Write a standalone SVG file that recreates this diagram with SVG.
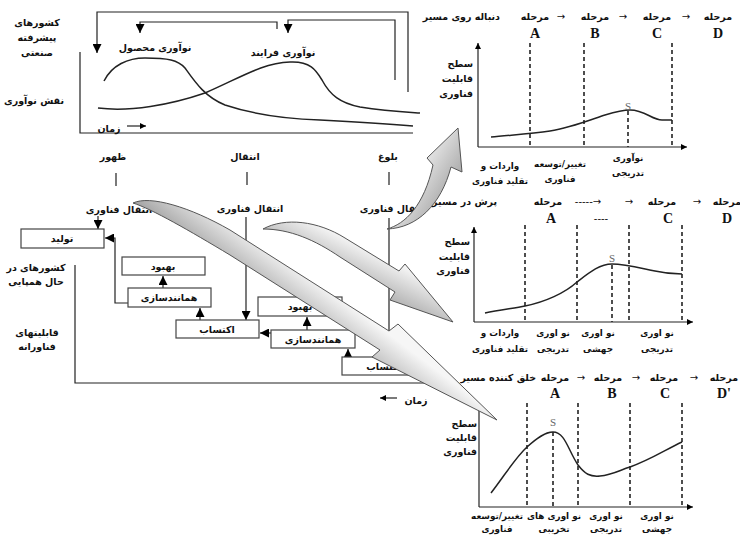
<svg xmlns="http://www.w3.org/2000/svg" width="740" height="537" viewBox="0 0 740 537">
<defs>
<marker id="ah" viewBox="0 0 10 10" refX="10" refY="5" markerWidth="9" markerHeight="9" orient="auto" markerUnits="userSpaceOnUse"><path d="M0,0 L10,5 L0,10 Z" fill="#000"/></marker>
<marker id="as" viewBox="0 0 10 10" refX="10" refY="5" markerWidth="7" markerHeight="6" orient="auto" markerUnits="userSpaceOnUse"><path d="M0,0 L10,5 L0,10 Z" fill="#000"/></marker>
<linearGradient id="g1" gradientUnits="userSpaceOnUse" x1="400" y1="180" x2="450" y2="210"><stop offset="0" stop-color="#f4f4f4"/><stop offset="1" stop-color="#9e9e9e"/></linearGradient>
<linearGradient id="g2" gradientUnits="userSpaceOnUse" x1="350" y1="240" x2="330" y2="280"><stop offset="0" stop-color="#f4f4f4"/><stop offset="1" stop-color="#a4a4a4"/></linearGradient>
<linearGradient id="g3" gradientUnits="userSpaceOnUse" x1="330" y1="290" x2="300" y2="330"><stop offset="0" stop-color="#f6f6f6"/><stop offset="1" stop-color="#a0a0a0"/></linearGradient>
</defs>
<style>
.fa{font-family:"DejaVu Sans",sans-serif;font-weight:bold;font-size:9.5px;fill:#111}
.sm{font-size:8.8px}
.m{text-anchor:middle}
.e{text-anchor:end}
.lat{font-family:"Liberation Serif",serif;font-weight:bold;font-size:14px;fill:#111;text-anchor:middle}
.s{font-family:"Liberation Serif",serif;font-size:11px;fill:#666;text-anchor:middle}
.ar{font-family:"DejaVu Sans",sans-serif;font-size:10px;fill:#111;text-anchor:middle}
.ln{fill:none;stroke:#222;stroke-width:1.2}
.cv{fill:none;stroke:#222;stroke-width:1.5}
.box{fill:#fff;stroke:#444;stroke-width:1.2}
.dash{stroke:#222;stroke-width:1.6;stroke-dasharray:4,3;fill:none}
.big{stroke:#555;stroke-width:1}
</style>

<!-- Top-left: innovation role chart -->
<g id="top-chart">
<text class="fa m" x="37" y="26">کشورهای</text>
<text class="fa m" x="37" y="41">پیشرفته</text>
<text class="fa m" x="37" y="56">صنعتی</text>
<text class="fa m" x="34" y="104">نقش نوآوری</text>
<path class="ln" d="M80,52 L80,133 L413,133"/>
<path class="cv" d="M104,81 C112,65 128,58 145,58 C168,58 178,60 185,68 C195,82 205,97 225,105 C258,116 290,119 320,120 C360,122 390,124 413,126"/>
<path class="cv" d="M98,108 C130,112 170,105 205,93 C240,78 262,63 290,62 C310,61 316,70 322,80 C330,95 340,103 360,107 C385,111 405,112 420,113"/>
<text class="fa m" x="155" y="51">نوآوری محصول</text>
<text class="fa m" x="283" y="56">نوآوری فرایند</text>
<text class="fa m" x="109" y="132">زمان</text>
</g>

<!-- Connectors -->
<g id="connectors">
<path class="ln" d="M408,92 L408,12 L97,12 L97,53" marker-end="url(#ah)"/>
<path class="ln" d="M277,29 L277,22 L140,22 L140,33" marker-end="url(#ah)"/>
<path class="ln" d="M395,80 L395,20 L288,20 L288,33" marker-end="url(#ah)"/>
<path class="ln" d="M127,126 L146,126" marker-end="url(#as)"/>
<path class="ln" d="M116,173 L116,186 M247,172 L247,185 M389,172 L389,185"/>
<path class="ln" d="M98,216 L98,229" marker-end="url(#ah)"/>
<path class="ln" d="M246,217 L246,320" marker-end="url(#ah)"/>
<path class="ln" d="M389,218 L389,357" marker-end="url(#ah)"/>
<path class="ln" d="M128,303 L115,303 L115,238 L105,238" marker-end="url(#ah)"/>
<path class="ln" d="M163,288 L163,276" marker-end="url(#ah)"/>
<path class="ln" d="M200,320 L200,308" marker-end="url(#ah)"/>
<path class="ln" d="M307,330 L307,317" marker-end="url(#ah)"/>
<path class="ln" d="M271,333 L260,333" marker-end="url(#ah)"/>
<path class="ln" d="M348,357 L348,349" marker-end="url(#ah)"/>
<path class="ln" d="M75,265 L75,383 L455,383"/>
<path class="ln" d="M397,398 L380,398" marker-end="url(#as)"/>
</g>

<g id="labels-lower">
<text class="fa m" x="113" y="160">ظهور</text>
<text class="fa m" x="245" y="160">انتقال</text>
<text class="fa m" x="388" y="160">بلوغ</text>
<text class="fa m" x="119" y="213">انتقال فناوری</text>
<text class="fa m" x="250" y="212">انتقال فناوری</text>
<text class="fa m" x="393" y="212">انتقال فناوری</text>
<text class="fa m" x="36" y="271">کشورهای در</text>
<text class="fa m" x="36" y="285">حال همپایی</text>
<text class="fa m" x="37" y="336">قابلیتهای</text>
<text class="fa m" x="37" y="350">فناورانه</text>
<text class="fa m" x="416" y="404">زمان</text>
</g>

<g id="n-tolid"><rect class="box" x="21" y="229" width="83" height="19"/><text class="fa m" x="62" y="242">تولید</text></g>
<g id="n-behbood1"><rect class="box" x="122" y="257" width="83" height="18"/><text class="fa m" x="163" y="270">بهبود</text></g>
<g id="n-hamanand1"><rect class="box" x="128" y="288" width="83" height="19"/><text class="fa m" x="169" y="301">همانندسازی</text></g>
<g id="n-ektesab2"><rect class="box" x="176" y="320" width="83" height="18"/><text class="fa m" x="217" y="333">اکتساب</text></g>
<g id="n-behbood2"><rect class="box" x="258" y="297" width="84" height="19"/><text class="fa m" x="300" y="310">بهبود</text></g>
<g id="n-hamanand2"><rect class="box" x="271" y="330" width="84" height="18"/><text class="fa m" x="313" y="343">همانندسازی</text></g>
<g id="n-ektesab3"><rect class="box" x="342" y="357" width="84" height="18"/><text class="fa m" x="384" y="370">اکتساب</text></g>

<!-- Graph 1 -->
<g id="graph1">
<text class="fa e" x="500" y="20">دنباله روی مسیر</text>
<text class="fa m" x="535" y="20">مرحله</text><text class="ar" x="561" y="20">→</text>
<text class="fa m" x="595" y="20">مرحله</text><text class="ar" x="623" y="20">→</text>
<text class="fa m" x="657" y="20">مرحله</text><text class="ar" x="686" y="20">→</text>
<text class="fa m" x="718" y="20">مرحله</text>
<text class="lat" x="535" y="38">A</text><text class="lat" x="595" y="38">B</text><text class="lat" x="657" y="38">C</text><text class="lat" x="718" y="38">D</text>
<path class="ln" d="M478,147 L478,43" marker-end="url(#as)"/>
<path class="ln" d="M478,147 L687,147" marker-end="url(#as)"/>
<path class="dash" d="M530,43 L530,147 M584,43 L584,147 M628,111 L628,147 M672,43 L672,147"/>
<path class="cv" d="M491,137 C510,135 530,134 550,131 C570,128 590,120 605,115 C615,112 622,110 630,110 C645,110 652,120 662,120 L672,120"/>
<text class="s" x="628" y="110">S</text>
<text class="fa e" x="473" y="67">سطح</text>
<text class="fa e" x="473" y="82">قابلیت</text>
<text class="fa e" x="473" y="97">فناوری</text>
<text class="fa sm m" x="500" y="169">واردات و</text>
<text class="fa sm m" x="500" y="184">تقلید فناوری</text>
<text class="fa sm m" x="560" y="167">تغییر/توسعه</text>
<text class="fa sm m" x="560" y="182">فناوری</text>
<text class="fa sm m" x="628" y="161">نوآوری</text>
<text class="fa sm m" x="628" y="176">تدریجی</text>
</g>

<!-- Graph 2 -->
<g id="graph2">
<text class="fa e" x="497" y="205">پرش در مسیر</text>
<text class="fa m" x="548" y="205">مرحله</text>
<text class="ar" x="588" y="205">-----→</text>
<text class="ar" x="629" y="205">→</text>
<text class="fa m" x="662" y="205">مرحله</text><text class="ar" x="697" y="205">→</text>
<text class="fa m" x="727" y="205">مرحله</text>
<text class="lat" x="551" y="223">A</text><text class="ar" x="601" y="222">----</text><text class="lat" x="668" y="223">C</text><text class="lat" x="727" y="223">D</text>
<path class="ln" d="M474,322 L474,227" marker-end="url(#as)"/>
<path class="ln" d="M474,322 L693,322" marker-end="url(#as)"/>
<path class="dash" d="M525,225 L525,322 M577,225 L577,322 M612,265 L612,322 M629,225 L629,322 M682,225 L682,322"/>
<path class="cv" d="M485,313 C500,310 515,308 525,306 C545,302 565,293 577,282 C590,272 600,264 612,264 C625,264 640,268 655,271 C668,274 675,274 682,274"/>
<text class="s" x="612" y="262">S</text>
<text class="fa e" x="470" y="245">سطح</text>
<text class="fa e" x="470" y="260">قابلیت</text>
<text class="fa e" x="470" y="274">فناوری</text>
<text class="fa sm m" x="500" y="336">واردات و</text>
<text class="fa sm m" x="500" y="352">تقلید فناوری</text>
<text class="fa sm m" x="553" y="336">نو اوری</text>
<text class="fa sm m" x="553" y="352">تدریجی</text>
<text class="fa sm m" x="598" y="336">نو اوری</text>
<text class="fa sm m" x="598" y="352">جهشی</text>
<text class="fa sm m" x="657" y="336">نو اوری</text>
<text class="fa sm m" x="657" y="352">تدریجی</text>
</g>

<!-- Graph 3 -->
<g id="graph3">
<text class="fa e" x="536" y="381">خلق کننده مسیر</text>
<text class="fa m" x="555" y="381">مرحله</text><text class="ar" x="581" y="381">→</text>
<text class="fa m" x="608" y="381">مرحله</text><text class="ar" x="636" y="381">→</text>
<text class="fa m" x="664" y="381">مرحله</text><text class="ar" x="694" y="381">→</text>
<text class="fa m" x="724" y="381">مرحله</text>
<text class="lat" x="555" y="398">A</text><text class="lat" x="612" y="398">B</text><text class="lat" x="665" y="398">C</text><text class="lat" x="724" y="398">D'</text>
<path class="ln" d="M479,507 L479,407"/>
<path class="ln" d="M479,507 L693,507" marker-end="url(#as)"/>
<path class="dash" d="M527,403 L527,507 M553,432 L553,507 M578,403 L578,507 M630,403 L630,507 M682,403 L682,507"/>
<path class="cv" d="M491,493 C505,475 515,458 527,447 C537,438 545,432 553,432 C565,432 568,450 578,465 C585,474 590,477 600,476 C612,475 620,470 630,467 C650,460 665,450 682,442"/>
<text class="s" x="553" y="426">S</text>
<text class="fa e" x="477" y="427">سطح</text>
<text class="fa e" x="477" y="441">قابلیت</text>
<text class="fa e" x="477" y="455">فناوری</text>
<text class="fa sm m" x="497" y="519">تغییر/توسعه</text>
<text class="fa sm m" x="497" y="532">فناوری</text>
<text class="fa sm m" x="554" y="519">نو اوری های</text>
<text class="fa sm m" x="554" y="532">تخریبی</text>
<text class="fa sm m" x="606" y="519">نو اوری</text>
<text class="fa sm m" x="606" y="532">تدریجی</text>
<text class="fa sm m" x="657" y="519">نو اوری</text>
<text class="fa sm m" x="657" y="532">جهشی</text>
</g>

<!-- Big curved arrows -->
<g id="big-arrows">
<path class="big" fill="url(#g1)" d="M387,229 C405,224 424,206 433,165 L427,158 L458,128 L462,172 L451,167 C441,205 417,228 387,229 Z"/>
<path class="big" fill="url(#g2)" d="M263,229 C285,217 318,221 345,238 L399,271 L405,264 L453,322 L390,300 L395,292 L340,257 C315,240 290,229 263,229 Z"/>
<path class="big" fill="url(#g3)" d="M133,203 C150,195 190,207 230,230 L389,331 L398,324 L497,420 L372,357 L380,350 L230,255 C190,231 152,209 133,203 Z"/>
</g>
</svg>
